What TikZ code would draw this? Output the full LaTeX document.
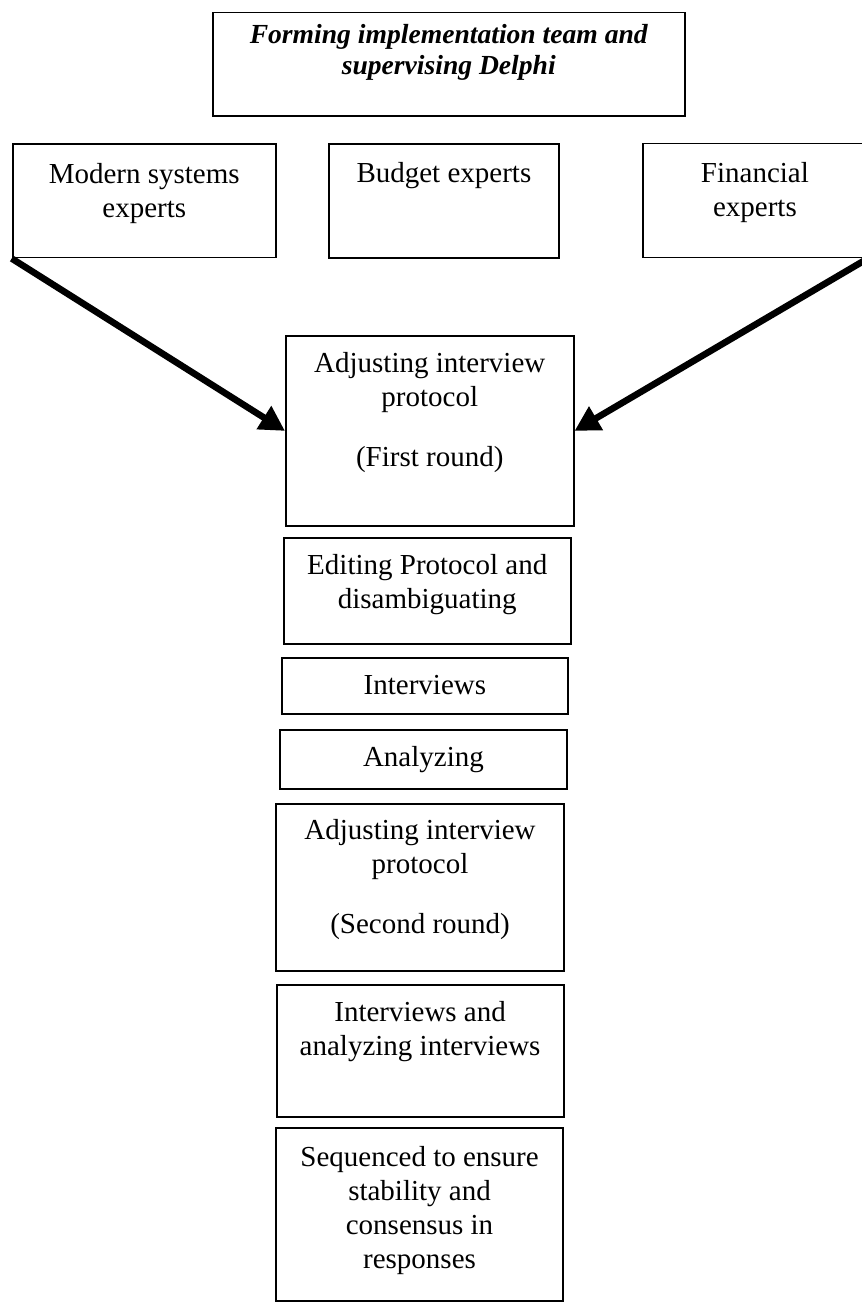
\documentclass[tikz,border=0pt]{standalone}
\usepackage{fontspec}
\setmainfont{Liberation Serif}
\usetikzlibrary{arrows.meta,positioning}

\tikzset{
  box/.style={draw,line width=.9pt,inner sep=0pt,anchor=north west},
  txt/.style={inner sep=0pt,align=center,font=\fontsize{14.5}{17}\selectfont},
  toptxt/.style={inner sep=0pt,align=center,font=\fontsize{13.8}{15.5}\selectfont\bfseries\itshape},
  feed/.style={line width=3.3pt,-{Triangle[length=12.5pt,width=13pt]}}
}

\begin{document}
\begin{tikzpicture}[x=1pt,y=-1pt]
  \useasboundingbox (0,0) rectangle (430.5,652);
  % boxes
  \node[box,minimum width=236.15pt,minimum height=51.6pt] (team) at (105.85,5.85) {};
  \node[box,minimum width=131.65pt,minimum height=56.7pt] (modern) at (5.85,71.65) {};
  \node[box,minimum width=115pt,minimum height=57pt] (budget) at (164,71.5) {};
  \node[box,minimum width=112pt,minimum height=57pt] (financial) at (321,71.35) {};
  \node[box,minimum width=143.85pt,minimum height=95pt] (adjone) at (142.5,167.5) {};
  \node[box,minimum width=143.65pt,minimum height=53pt] (editing) at (141.35,268.35) {};
  \node[box,minimum width=143.3pt,minimum height=28pt] (interviews) at (140.35,328.65) {};
  \node[box,minimum width=143.5pt,minimum height=29.65pt] (analyzing) at (139.5,364.5) {};
  \node[box,minimum width=144.15pt,minimum height=83.65pt] (adjtwo) at (137.5,401.35) {};
  \node[box,minimum width=143.5pt,minimum height=65.85pt] (intanal) at (137.85,492) {};
  \node[box,minimum width=143.65pt,minimum height=86.65pt] (sequenced) at (137.5,563.35) {};
  % texts
  \node[toptxt,below=5pt of team.north] (team-t) {\strut Forming implementation team and\\supervising Delphi};
  \node[txt,below=7.8pt of modern.north] (modern-t) {\strut Modern systems\\experts};
  \node[txt,below=7.8pt of budget.north] (budget-t) {\strut Budget experts};
  \node[txt,below=7.8pt of financial.north] (financial-t) {\strut Financial\\experts};
  \node[txt,below=6.8pt of adjone.north] (adjone-t) {\strut Adjusting interview\\protocol\\[13pt](First round)};
  \node[txt,below=6.6pt of editing.north] (editing-t) {\strut Editing Protocol and\\disambiguating};
  \node[txt,below=6.4pt of interviews.north] (interviews-t) {\strut Interviews};
  \node[txt,below=6.4pt of analyzing.north] (analyzing-t) {\strut Analyzing};
  \node[txt,below=6.3pt of adjtwo.north] (adjtwo-t) {\strut Adjusting interview\\protocol\\[13pt](Second round)};
  \node[txt,below=6.4pt of intanal.north] (intanal-t) {\strut Interviews and\\analyzing interviews};
  \node[txt,below=7.6pt of sequenced.north] (sequenced-t) {\strut Sequenced to ensure\\stability and\\consensus in\\responses};
  % arrows
  \draw[feed] (modern.south west) -- (adjone.west);
  \draw[feed] (financial.south east) -- (adjone.east);
\end{tikzpicture}
\end{document}
